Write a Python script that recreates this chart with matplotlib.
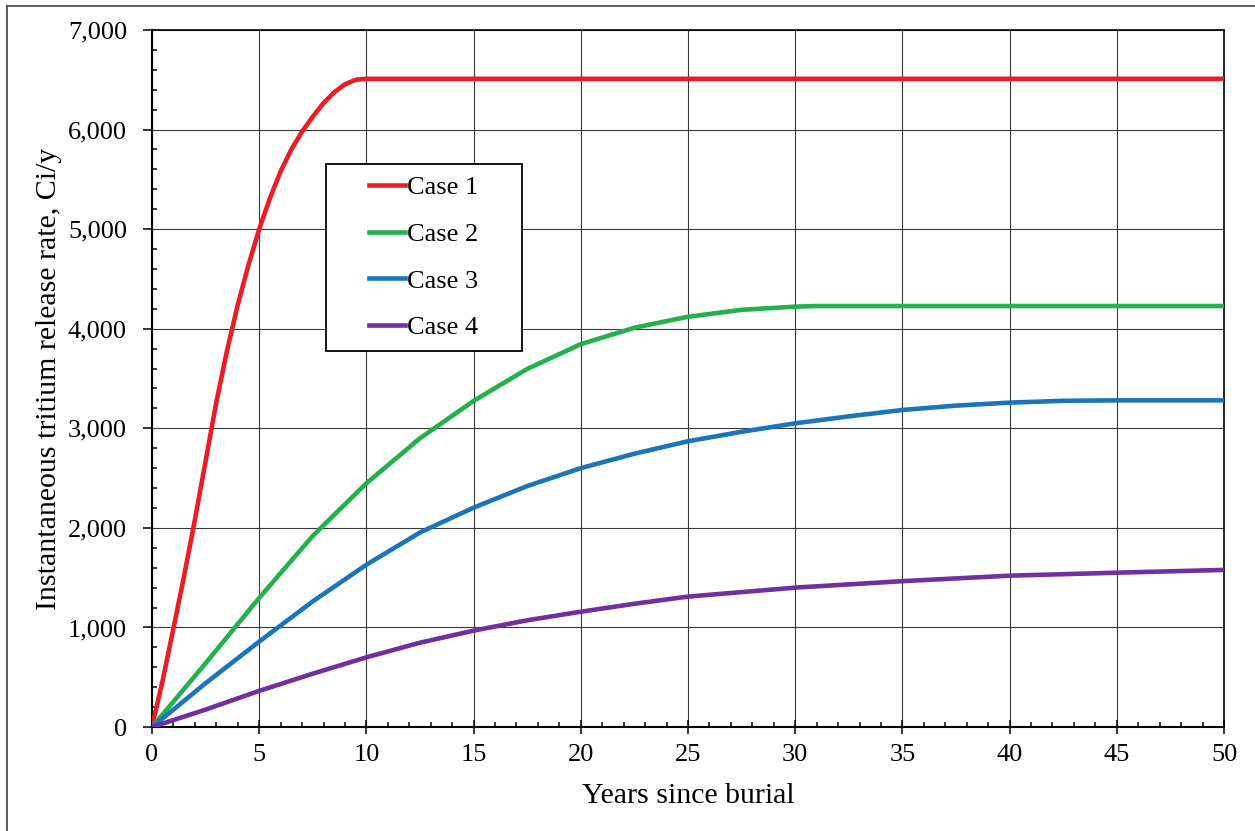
import matplotlib.pyplot as plt
import matplotlib.patches as mpatches
from matplotlib.lines import Line2D
from matplotlib.ticker import MultipleLocator, FuncFormatter

plt.rcParams['font.family'] = ['Liberation Serif', 'DejaVu Serif']

# values
years_1 = [0, 0.5, 1, 1.5, 2, 2.5, 3, 3.5, 4, 4.5, 5, 5.5, 6, 6.5, 7, 7.5, 8, 8.5, 9, 9.5, 10, 50]
case_1 = [0, 470, 990, 1520, 2080, 2670, 3260, 3780, 4240, 4640, 5000, 5310, 5580, 5800, 5980,
          6130, 6265, 6375, 6455, 6500, 6510, 6510]

years_2 = [0, 1, 2.5, 5, 7.5, 10, 12.5, 15, 17.5, 20, 22.5, 25, 27.5, 30, 31, 50]
case_2 = [0, 255, 640, 1297, 1920, 2448, 2900, 3275, 3596, 3845, 4010, 4120, 4190, 4222, 4228, 4228]

years_3 = [0, 1, 2.5, 5, 7.5, 10, 12.5, 15, 17.5, 20, 22.5, 25, 27.5, 30, 32.5, 35, 37.5, 40,
           42.5, 45, 50]
case_3 = [0, 175, 440, 858, 1262, 1630, 1954, 2203, 2420, 2600, 2745, 2870, 2965, 3050, 3120,
          3184, 3228, 3258, 3276, 3281, 3281]

years_4 = [0, 1, 2.5, 5, 7.5, 10, 12.5, 15, 17.5, 20, 22.5, 25, 30, 35, 40, 45, 50]
case_4 = [0, 70, 175, 363, 536, 700, 847, 968, 1072, 1158, 1238, 1310, 1400, 1465, 1520, 1550, 1578]

labels = ['Case 1', 'Case 2', 'Case 3', 'Case 4']
colors = ['#ED1C24', '#22B14C', '#1B75BB', '#7030A0']

fig = plt.figure(figsize=(12.55, 8.31), dpi=100)
ax = fig.add_axes([0.1211, 0.1251, 0.8542, 0.8388])

handles = []
for xs, ys, lab, col in zip([years_1, years_2, years_3, years_4],
                            [case_1, case_2, case_3, case_4], labels, colors):
    h, = ax.plot(xs, ys, color=col, lw=3.3, label=lab, zorder=3)
    handles.append(h)

ax.set_xlim(0, 50)
ax.set_ylim(0, 7000)
ax.xaxis.set_major_locator(MultipleLocator(5))
ax.xaxis.set_minor_locator(MultipleLocator(1))
ax.yaxis.set_major_locator(MultipleLocator(1000))
ax.yaxis.set_minor_locator(MultipleLocator(200))
ax.yaxis.set_major_formatter(FuncFormatter(lambda v, p: f'{int(v):,}'))

ax.grid(True, which='major', color='#3a3a3a', lw=0.8)
ax.set_axisbelow(True)

ax.tick_params(axis='x', which='major', direction='inout', length=10, width=1.1,
               labelsize=19, pad=7.5, colors='black')
ax.tick_params(axis='x', which='minor', direction='in', length=3.6, width=1.1)
ax.tick_params(axis='y', which='major', direction='out', length=6.5, width=1.1,
               labelsize=19, pad=11.5)
ax.tick_params(axis='y', which='minor', direction='in', length=3.9, width=1.1)

for side in ['left', 'bottom']:
    ax.spines[side].set_linewidth(1.5)
for side in ['top', 'right']:
    ax.spines[side].set_linewidth(1.2)

ax.set_xlabel('Years since burial', fontsize=21.5, labelpad=12)
ax.set_ylabel('Instantaneous tritium release rate, Ci/y', fontsize=21.5, labelpad=4)

# legend box
box = mpatches.Rectangle((0.1623, 0.5395), 0.1828, 0.2683, transform=ax.transAxes,
                         facecolor='white', edgecolor='black', lw=1.3, zorder=4)
ax.add_patch(box)
leg = ax.legend(handles=handles, loc='center', bbox_to_anchor=(0.2537, 0.6737),
                frameon=False, fontsize=19, handlelength=1.35, handletextpad=0.1,
                labelspacing=0.88)
leg.set_zorder(5)

# outer border of the picture
fig.add_artist(Line2D([0.0056, 1.0], [0.9928, 0.9928], transform=fig.transFigure,
                      color='#444444', lw=1.2))
fig.add_artist(Line2D([0.0056, 0.0056], [0.0, 0.9928], transform=fig.transFigure,
                      color='#444444', lw=1.2))

fig.savefig('out.png', dpi=100)
